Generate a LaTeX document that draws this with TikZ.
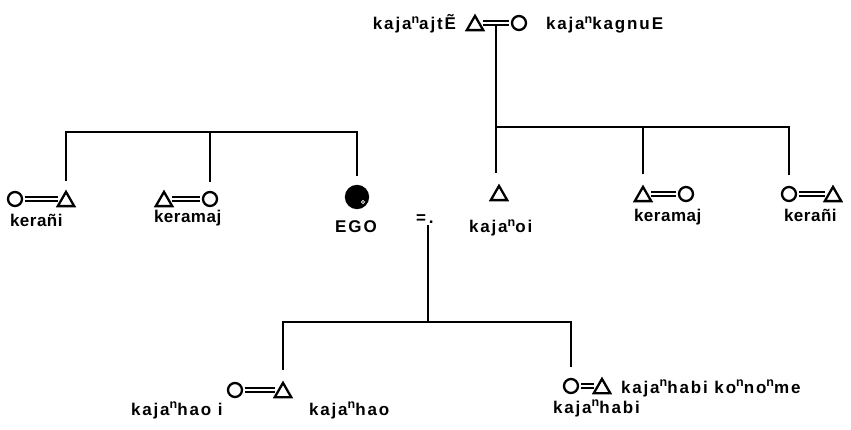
\documentclass[tikz,border=0pt]{standalone}
\usepackage{fontspec}
\setmainfont{Liberation Sans}
\usepackage{tikz}
\usetikzlibrary{positioning,shapes.geometric}
\newcommand{\nsup}{\raisebox{0.4em}{\fontsize{12.5}{12.5}\selectfont n}}

\begin{document}
\begin{tikzpicture}[x=1pt, y=-1pt, line width=2pt,
  male/.style={draw, regular polygon, regular polygon sides=3, minimum size=19pt, inner sep=0pt, line width=2.3pt, yshift=-2.4pt},
  female/.style={draw, circle, minimum size=14pt, inner sep=0pt, line width=2.3pt},
  marr/.style={double, double distance=2.2pt, line width=1.6pt, shorten <=1.5pt, shorten >=1.5pt},
  desc/.style={shorten >=11pt},
  lbl/.style={font=\bfseries\fontsize{17}{19}\selectfont\addfontfeature{LetterSpace=3}, inner sep=0pt},
  wide/.style={lbl, font=\bfseries\fontsize{17}{19}\selectfont\addfontfeature{LetterSpace=11}}]
\useasboundingbox (0,0) rectangle (851,430);
% parents
\node[male] (gm) at (475,23) {};
\node[female] (gf) at (519,23) {};
\node[wide, anchor=base east] (gmname) at (457,30) {kaja\nsup ajt\~{E}};
\node[wide, anchor=base west] (gfname) at (545,30) {kaja\nsup kagnuE};
\draw[marr] (gf.west -| gm.east) -- coordinate[midway] (gp) (gf.west);
% ego's siblings
\node[female] (ls1f) at (15,199) {};
\node[male] (ls1m) at (66,199) {};
\node[male] (ls2m) at (164,199) {};
\node[female] (ls2f) at (210,199) {};
\node[female, fill, minimum size=22pt] (ego) at (357,197) {};
\draw[white, line width=0.7pt] (ego.center) ++(6,5) circle (1.6pt);
\node[lbl, anchor=base west] (ls1name) at (9,227) {kerañi};
\node[lbl, anchor=base west] (ls2name) at (153,223) {keramaj};
\node[wide, anchor=base] (egoname) at (356,233) {EGO};
\node[lbl, anchor=base west] (egoeq) at (415,224) {=\,.};
\draw[marr] (ls1f.east) -- (ls1f.east -| ls1m.west);
\draw[marr] (ls2f.west -| ls2m.east) -- (ls2f.west);
\coordinate (lbar) at (357,132);
\draw[shorten <=9pt, shorten >=9pt] (ls1m) |- (lbar) -- (ego);
\draw[shorten >=9pt] (ls2f.north |- lbar) -- (ls2f);
% father's side
\node[male] (oi) at (499,193) {};
\node[male] (rs2m) at (643,194) {};
\node[female] (rs2f) at (686,194) {};
\node[female] (rs3f) at (789,194) {};
\node[male] (rs3m) at (833,194) {};
\node[wide, anchor=base west] (oiname) at (468,233) {kaja\nsup oi};
\node[lbl, anchor=base west] (rs2name) at (633,222) {keramaj};
\node[lbl, anchor=base west] (rs3name) at (783,222) {kerañi};
\draw[marr] (rs2f.west -| rs2m.east) -- (rs2f.west);
\draw[marr] (rs3f.east) -- (rs3f.east -| rs3m.west);
\coordinate (rbar) at (789,127);
\draw[desc, shorten <=2pt] (gp) -- (gp |- oi.north);
\draw[desc] (gp |- rbar) -- (rbar) -- (rs3f);
\draw[desc] (rs2m.north |- rbar) -- (rs2m);
% children
\node[female] (b1f) at (235,390) {};
\node[male] (b1m) at (283,390) {};
\node[female] (b2f) at (571,386) {};
\node[male] (b2m) at (602,386) {};
\node[wide, anchor=base west] (b1fname) at (130,415) {kaja\nsup hao i};
\node[wide, anchor=base west] (b1mname) at (308,415) {kaja\nsup hao};
\node[wide, anchor=base west] (b2mname) at (620,393) {kaja\nsup habi ko\nsup no\nsup me};
\node[wide, anchor=base west] (b2fname) at (552,413) {kaja\nsup habi};
\draw[marr] (b1f.east) -- (b1f.east -| b1m.west);
\draw[marr] (b2f.east) -- (b2f.east -| b2m.west);
\coordinate (bbar) at (428,322);
\draw (egoeq.south -| bbar) -- (bbar);
\draw[desc, shorten <=11pt] (b1m) |- (b2f.north |- bbar) -- (b2f);
\end{tikzpicture}
\end{document}
